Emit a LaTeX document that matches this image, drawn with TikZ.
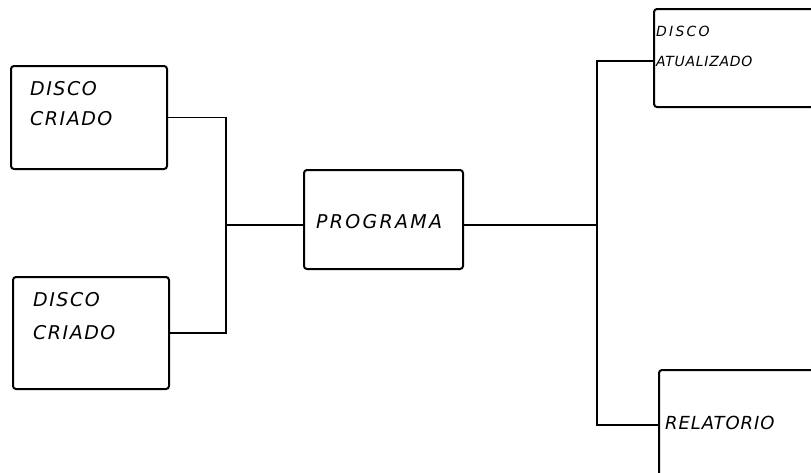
\documentclass[tikz,border=0pt]{standalone}
\usepackage{fontspec}
\setmainfont{DejaVu Sans}
\begin{document}
\begin{tikzpicture}[x=1pt,y=-1pt,
  box/.style={draw,line width=2pt,rounded corners=3pt,anchor=north west,inner sep=0pt},
  lbl/.style={anchor=west,inner sep=0pt,font=\fontsize{19}{21}\selectfont\itshape\addfontfeature{LetterSpace=8}},
  wire/.style={line width=1.8pt}]
\useasboundingbox (0,0) rectangle (811,472);
\clip (0,0) rectangle (811,472);
% boxes
\node[box,minimum width=156pt,minimum height=103pt] (b1) at (10,65) {};
\node[box,minimum width=156pt,minimum height=112pt] (b2) at (12,276) {};
\node[box,minimum width=159pt,minimum height=99pt] (prog) at (303,169) {};
\node[box,minimum width=160pt,minimum height=98pt] (upd) at (653,8) {};
\node[box,minimum width=160pt,minimum height=120pt] (rel) at (658,369) {};
% labels
\node[lbl] (t1a) at (30,89) {DISCO};
\node[lbl] (t1b) at (30,119) {CRIADO};
\node[lbl] (t2a) at (33,300) {DISCO};
\node[lbl] (t2b) at (33,333) {CRIADO};
\node[lbl,font=\fontsize{19}{21}\selectfont\itshape\addfontfeature{LetterSpace=12}] (tp) at (316,222) {PROGRAMA};
\node[lbl,font=\fontsize{14}{16}\selectfont\itshape\addfontfeature{LetterSpace=16}] (tua) at (656,31) {DISCO};
\node[lbl,font=\fontsize{14}{16}\selectfont\itshape\addfontfeature{LetterSpace=5}] (tub) at (656,61) {ATUALIZADO};
\node[lbl,font=\fontsize{18}{20}\selectfont\itshape\addfontfeature{LetterSpace=5}] (tr) at (665,423) {RELATORIO};
% junctions
\coordinate (jl) at (226,225);
\coordinate (jr) at (597,225);
\coordinate (jrt) at (597,61);
\coordinate (jrb) at (597,425);
% connectors
\draw[wire] (b1.east) -| (jl);
\draw[wire] (b2.east) -| (jl);
\draw[wire] (jl) -- (jl -| prog.west);
\draw[wire] (jr -| prog.east) -- (jr);
\draw[wire] (jrt -| upd.west) -- (jrt) -- (jrb) -- (jrb -| rel.west);
\end{tikzpicture}
\end{document}
